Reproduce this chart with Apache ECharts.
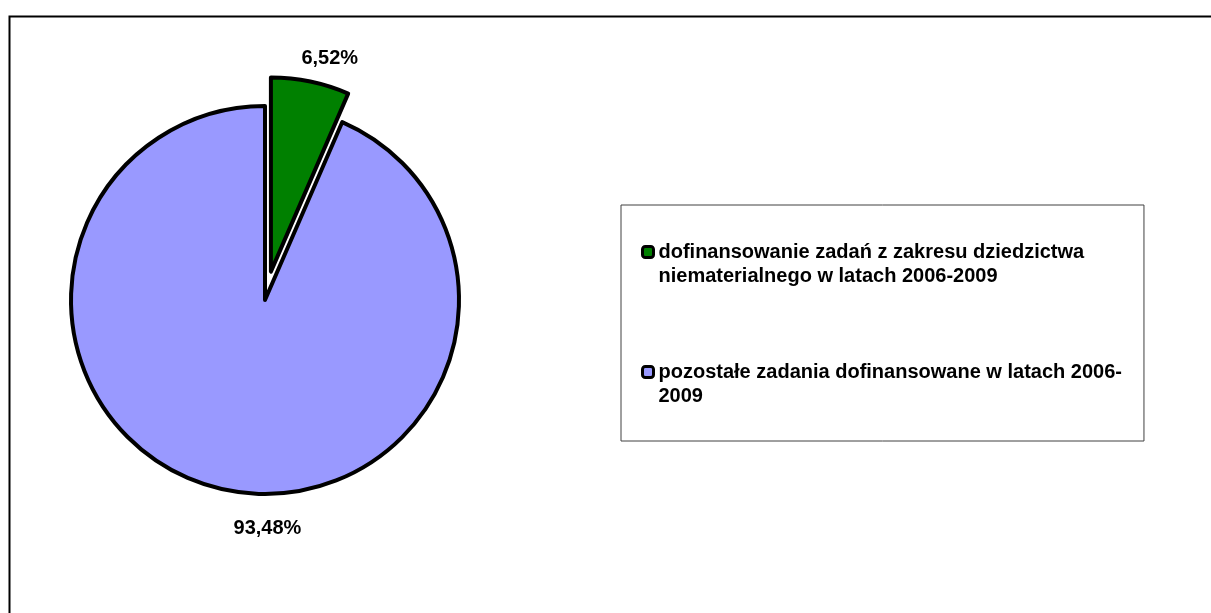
<!DOCTYPE html>
<html>
<head>
<meta charset="utf-8">
<script src="https://cdn.jsdelivr.net/npm/echarts@6/dist/echarts.min.js"></script>
<style>
html,body{margin:0;padding:0;background:#fff;}
#chart{width:1211px;height:613px;}
</style>
</head>
<body>
<div id="chart"></div>
<script>
// Data
const categories = [
  'dofinansowanie zadań z zakresu dziedzictwa niematerialnego w latach 2006-2009',
  'pozostałe zadania dofinansowane w latach 2006-2009'
];
const values = [6.52, 93.48];
const valueLabels = ['6,52%', '93,48%'];
const legendLabels = [
  'dofinansowanie zadań z zakresu dziedzictwa\nniematerialnego w latach 2006-2009',
  'pozostałe zadania dofinansowane w latach 2006-\n2009'
];
const colors = ['#008000', '#9999FF'];

const FONT = 'Liberation Sans, Arial, sans-serif';
const chart = echarts.init(document.getElementById('chart'));

const data = categories.map((name, i) => ({
  name: name,
  value: values[i],
  selected: i === 0,
  itemStyle: { color: colors[i] }
}));

chart.setOption({
  animation: false,
  graphic: [{
    type: 'rect',
    left: 7, top: 14,
    shape: { width: 1300, height: 700 },
    style: { fill: 'none', stroke: '#000', lineWidth: 2 },
    silent: true
  }],
  legend: {
    orient: 'vertical',
    left: 621,
    top: 205,
    padding: [11, 22, 33, 20],
    itemGap: 48,
    itemWidth: 11,
    itemHeight: 11,
    icon: 'roundRect',
    borderColor: '#404040',
    borderWidth: 1,
    backgroundColor: '#fff',
    selectedMode: false,
    itemStyle: { borderColor: '#000', borderWidth: 3 },
    formatter: function (name) { return '\n' + legendLabels[categories.indexOf(name)]; },
    textStyle: {
      fontFamily: FONT,
      fontSize: 20,
      fontWeight: 'bold',
      color: '#000',
      lineHeight: 24
    }
  },
  series: [{
    type: 'pie',
    center: [265, 300],
    radius: 194,
    startAngle: 90,
    clockwise: true,
    selectedMode: 'single',
    selectedOffset: 29,
    avoidLabelOverlap: false,
    itemStyle: { borderColor: '#000', borderWidth: 4 },
    emphasis: { disabled: true },
    label: {
      show: true,
      position: 'outside',
      fontFamily: FONT,
      fontSize: 20,
      fontWeight: 'bold',
      color: '#000',
      formatter: function (p) { return valueLabels[p.dataIndex]; }
    },
    labelLine: { show: false, length: 25, length2: 0 },
    labelLayout: function (p) {
      return p.dataIndex === 0 ? { dx: -19, dy: 1 } : { align: 'center', dx: 52, dy: 14 };
    },
    data: data
  }]
});
</script>
</body>
</html>
